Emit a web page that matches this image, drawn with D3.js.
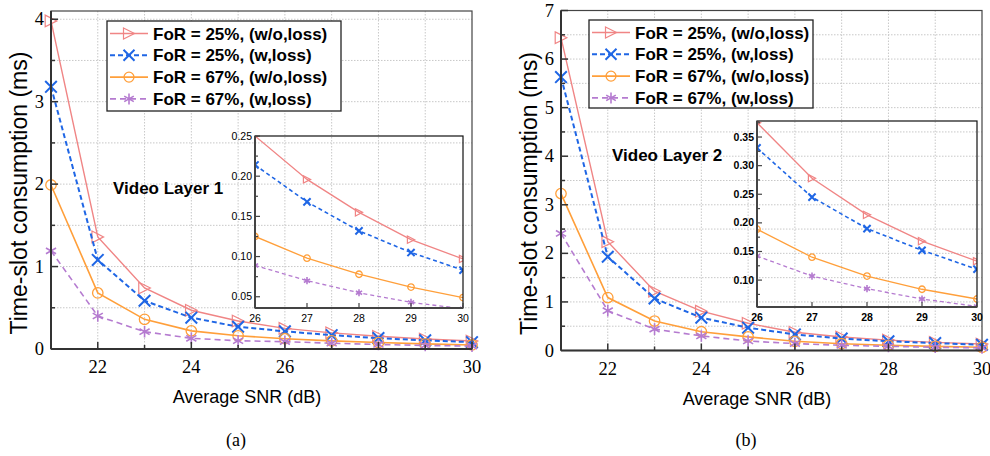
<!DOCTYPE html>
<html>
<head>
<meta charset="utf-8">
<script src="https://cdn.jsdelivr.net/npm/d3@7"></script>
<style>
  body { margin: 0; background: #fff; }
  svg { display: block; }
</style>
</head>
<body>
<svg id="chart" width="990" height="456"></svg>
<script>
// x values (average SNR, dB)
const snr = [21, 22, 23, 24, 25, 26, 27, 28, 29, 30];
const seriesNames = [
  "FoR = 25%, (w/o,loss)",
  "FoR = 25%, (w,loss)",
  "FoR = 67%, (w/o,loss)",
  "FoR = 67%, (w,loss)"
];

// video layer 1
const l1For25NoLoss = [3.98, 1.36, 0.74, 0.47, 0.34, 0.250, 0.196, 0.155, 0.121, 0.097];
const l1For25Loss   = [3.18, 1.08, 0.585, 0.38, 0.27, 0.214, 0.168, 0.132, 0.105, 0.083];
const l1For67NoLoss = [1.99, 0.68, 0.36, 0.22, 0.16, 0.125, 0.098, 0.078, 0.062, 0.049];
const l1For67Loss   = [1.19, 0.40, 0.21, 0.13, 0.10, 0.089, 0.070, 0.055, 0.043, 0.035];

// video layer 2
const l2For25NoLoss = [6.44, 2.24, 1.22, 0.81, 0.56, 0.375, 0.278, 0.214, 0.168, 0.133];
const l2For25Loss   = [5.63, 1.93, 1.07, 0.675, 0.47, 0.331, 0.245, 0.190, 0.152, 0.119];
const l2For67NoLoss = [3.23, 1.09, 0.607, 0.387, 0.28, 0.189, 0.140, 0.107, 0.084, 0.067];
const l2For67Loss   = [2.41, 0.82, 0.44, 0.30, 0.195, 0.142, 0.107, 0.085, 0.067, 0.054];

// tick labels
const xTicks = [22, 24, 26, 28, 30];
const insetXTicks = [26, 27, 28, 29, 30];
const l1YTicks = [0, 1, 2, 3, 4];
const l2YTicks = [0, 1, 2, 3, 4, 5, 6, 7];
const l1InsetYTicks = [0.05, 0.10, 0.15, 0.20, 0.25];
const l2InsetYTicks = [0.10, 0.15, 0.20, 0.25, 0.30, 0.35];

const styles = [
  { color: "#f08585", dash: null,  marker: "tri",  width: 1.4 },
  { color: "#1f66e5", dash: "5,3", marker: "x",    width: 2 },
  { color: "#ff9f3a", dash: null,  marker: "circ", width: 1.6 },
  { color: "#b57bd0", dash: "6,4", marker: "star", width: 1.6 }
];

const svg = d3.select("#chart");

function drawMarker(g, type, cx, cy, s, color) {
  const m = g.append("g").attr("transform", `translate(${cx},${cy})`)
    .attr("fill", "none").attr("stroke", color);
  if (type === "tri") {
    m.append("path").attr("d", `M${-s},${-s}L${s},0L${-s},${s}Z`).attr("stroke-width", 1.2);
  } else if (type === "x") {
    m.append("path").attr("d", `M${-s},${-s}L${s},${s}M${-s},${s}L${s},${-s}`).attr("stroke-width", 2);
  } else if (type === "circ") {
    m.append("circle").attr("r", s * 0.9).attr("stroke-width", 1.3);
  } else {
    const a = s * 0.87, b = s * 0.5;
    m.append("path").attr("d", `M0,${-s}L0,${s}M${-a},${-b}L${a},${b}M${-a},${b}L${a},${-b}`)
      .attr("stroke-width", 1.6);
  }
}

function drawPanel(p) {
  const x = d3.scaleLinear().domain([21, 30]).range([p.left, p.right]);
  const y = d3.scaleLinear().domain([0, p.yMax]).range([p.bottom, p.top]);
  const g = svg.append("g");

  // grid
  const gx = d3.range(22, 30);
  const gy = d3.range(0.5, p.yMax + 0.01, 0.5);
  g.selectAll(".gx").data(gx).enter().append("line")
    .attr("x1", d => x(d)).attr("x2", d => x(d))
    .attr("y1", p.top).attr("y2", p.bottom)
    .attr("stroke", "#c8c8c8").attr("stroke-dasharray", "1.5,1.5");
  g.selectAll(".gy").data(gy).enter().append("line")
    .attr("x1", p.left).attr("x2", p.right)
    .attr("y1", d => y(d)).attr("y2", d => y(d))
    .attr("stroke", "#c8c8c8").attr("stroke-dasharray", "1.5,1.5");

  // series
  const line = d3.line().x((d, i) => x(snr[i])).y(d => y(d));
  p.series.forEach((vals, k) => {
    const st = styles[k];
    g.append("path").datum(vals).attr("d", line)
      .attr("fill", "none").attr("stroke", st.color)
      .attr("stroke-width", st.width)
      .attr("stroke-dasharray", st.dash);
    vals.forEach((v, i) => drawMarker(g, st.marker, x(snr[i]), y(v), 5.8, st.color));
  });

  // frame and ticks
  g.append("rect").attr("x", p.left).attr("y", p.top)
    .attr("width", p.right - p.left).attr("height", p.bottom - p.top)
    .attr("fill", "none").attr("stroke", "#444").attr("stroke-width", 1.2);
  g.append("line").attr("x1", p.left).attr("x2", p.left).attr("y1", p.top).attr("y2", p.bottom)
    .attr("stroke", "#333").attr("stroke-width", 2);
  g.append("line").attr("x1", p.left).attr("x2", p.right).attr("y1", p.bottom).attr("y2", p.bottom)
    .attr("stroke", "#333").attr("stroke-width", 2);

  d3.range(22, 31).forEach(v => {
    const len = v % 2 === 0 ? 7 : 4;
    g.append("line").attr("x1", x(v)).attr("x2", x(v))
      .attr("y1", p.bottom).attr("y2", p.bottom - len)
      .attr("stroke", "#333").attr("stroke-width", 1.5);
  });
  d3.range(0.5, p.yMax + 0.01, 0.5).forEach(v => {
    const len = Number.isInteger(v) ? 7 : 4;
    g.append("line").attr("x1", p.left).attr("x2", p.left + len)
      .attr("y1", y(v)).attr("y2", y(v))
      .attr("stroke", "#333").attr("stroke-width", 1.5);
  });

  g.selectAll(".xt").data(xTicks).enter().append("text")
    .attr("x", d => x(d)).attr("y", p.bottom + 24)
    .attr("text-anchor", "middle")
    .attr("font-family", "Liberation Serif, Times New Roman, serif")
    .attr("font-size", 18.5).text(d => d);
  g.selectAll(".yt").data(p.yTicks).enter().append("text")
    .attr("x", p.left - 7).attr("y", d => y(d) + 6)
    .attr("text-anchor", "end")
    .attr("font-family", "Liberation Serif, Times New Roman, serif")
    .attr("font-size", 18.5).text(d => d);

  // axis titles
  g.append("text")
    .attr("transform", `translate(${p.left - 24},${(p.top + p.bottom) / 2 + 13}) rotate(-90)`)
    .attr("text-anchor", "middle")
    .attr("font-family", "Liberation Sans, Arial, sans-serif")
    .attr("font-size", 23).text("Time-slot consumption (ms)");
  g.append("text").attr("x", p.left + 196).attr("y", p.bottom + 54)
    .attr("text-anchor", "middle")
    .attr("font-family", "Liberation Sans, Arial, sans-serif")
    .attr("font-size", 18).text("Average SNR (dB)");
  g.append("text").attr("x", p.left + 185).attr("y", 446)
    .attr("text-anchor", "middle")
    .attr("font-family", "Liberation Serif, Times New Roman, serif")
    .attr("font-size", 18).text(p.caption);

  g.append("text").attr("x", p.labelX).attr("y", p.labelY)
    .attr("font-family", "Liberation Sans, Arial, sans-serif")
    .attr("font-weight", "bold").attr("font-size", 17).text(p.label);

  // legend
  const lg = p.legend;
  g.append("rect").attr("x", lg.x).attr("y", lg.y).attr("width", lg.w).attr("height", lg.h)
    .attr("fill", "#fff").attr("stroke", "#222").attr("stroke-width", 1.3);
  seriesNames.forEach((name, k) => {
    const st = styles[k];
    const cy = lg.y + 12.5 + k * 21.8;
    g.append("line").attr("x1", lg.x + 3).attr("x2", lg.x + 41)
      .attr("y1", cy).attr("y2", cy)
      .attr("stroke", st.color).attr("stroke-width", st.width)
      .attr("stroke-dasharray", st.dash);
    drawMarker(g, st.marker, lg.x + 22, cy, 5.5, st.color);
    g.append("text").attr("x", lg.x + 46).attr("y", cy + 6)
      .attr("font-family", "Liberation Sans, Arial, sans-serif")
      .attr("font-weight", "bold").attr("font-size", 17).text(name);
  });

  // inset
  const ins = p.inset;
  const ix = d3.scaleLinear().domain([26, 30]).range([ins.left, ins.right]);
  const iy = d3.scaleLinear().domain(ins.yDomain).range([ins.bottom, ins.top]);
  const clipId = "clip" + p.caption.replace(/\W/g, "");
  svg.append("defs").append("clipPath").attr("id", clipId)
    .append("rect").attr("x", ins.left).attr("y", ins.top)
    .attr("width", ins.right - ins.left).attr("height", ins.bottom - ins.top);
  const ig = g.append("g");
  const ic = ig.append("g").attr("clip-path", `url(#${clipId})`);
  const iline = d3.line().x((d, i) => ix(insetXTicks[i])).y(d => iy(d));
  p.series.forEach((vals, k) => {
    const st = styles[k];
    const sub = vals.slice(5);
    ic.append("path").datum(sub).attr("d", iline)
      .attr("fill", "none").attr("stroke", st.color)
      .attr("stroke-width", k === 1 ? 1.6 : 1.3)
      .attr("stroke-dasharray", st.dash ? "4,3" : null);
    sub.forEach((v, i) => drawMarker(ic, st.marker, ix(insetXTicks[i]), iy(v), 3.6, st.color));
  });
  ig.append("rect").attr("x", ins.left).attr("y", ins.top)
    .attr("width", ins.right - ins.left).attr("height", ins.bottom - ins.top)
    .attr("fill", "none").attr("stroke", "#111").attr("stroke-width", 1.2);
  ig.append("line").attr("x1", ins.left).attr("x2", ins.left).attr("y1", ins.top).attr("y2", ins.bottom)
    .attr("stroke", "#444").attr("stroke-width", 2);
  ig.append("line").attr("x1", ins.left).attr("x2", ins.right).attr("y1", ins.bottom).attr("y2", ins.bottom)
    .attr("stroke", "#444").attr("stroke-width", 2);
  d3.range(Math.ceil(ins.yDomain[0] / 0.025) * 0.025, ins.yDomain[1] + 0.001, 0.025).forEach(v => {
    const major = Math.abs(Math.round(v / 0.05) * 0.05 - v) < 0.001;
    ig.append("line").attr("x1", ins.left).attr("x2", ins.left + (major ? 5 : 3))
      .attr("y1", iy(v)).attr("y2", iy(v)).attr("stroke", "#444").attr("stroke-width", 1.2);
  });
  insetXTicks.forEach(v => {
    ig.append("line").attr("x1", ix(v)).attr("x2", ix(v))
      .attr("y1", ins.bottom).attr("y2", ins.bottom - 5)
      .attr("stroke", "#444").attr("stroke-width", 1.2);
  });
  ig.selectAll(".iyt").data(ins.yTicks).enter().append("text")
    .attr("x", ins.left - 3).attr("y", d => iy(d) + 3.5)
    .attr("text-anchor", "end")
    .attr("font-family", "Liberation Sans, Arial, sans-serif")
    .attr("font-weight", ins.bold ? "bold" : "normal")
    .attr("font-size", 10.5).text(d => d.toFixed(2));
  ig.selectAll(".ixt").data(insetXTicks).enter().append("text")
    .attr("x", d => ix(d)).attr("y", ins.bottom + 14)
    .attr("text-anchor", "middle")
    .attr("font-family", "Liberation Sans, Arial, sans-serif")
    .attr("font-weight", ins.bold ? "bold" : "normal")
    .attr("font-size", 10.5).text(d => d);
}

drawPanel({
  left: 51, right: 472, top: 11, bottom: 349, yMax: 4.1, yTicks: l1YTicks,
  series: [l1For25NoLoss, l1For25Loss, l1For67NoLoss, l1For67Loss],
  caption: "(a)", label: "Video Layer 1", labelX: 113, labelY: 194,
  legend: { x: 107, y: 21, w: 234, h: 90 },
  inset: { left: 255, right: 463, top: 136, bottom: 308, yDomain: [0.036, 0.25],
           yTicks: l1InsetYTicks, bold: false }
});

drawPanel({
  left: 561, right: 982, top: 10.5, bottom: 350.5, yMax: 7, yTicks: l2YTicks,
  series: [l2For25NoLoss, l2For25Loss, l2For67NoLoss, l2For67Loss],
  caption: "(b)", label: "Video Layer 2", labelX: 612, labelY: 161,
  legend: { x: 589, y: 20, w: 224, h: 88 },
  inset: { left: 757, right: 977, top: 121, bottom: 307, yDomain: [0.053, 0.378],
           yTicks: l2InsetYTicks, bold: true }
});
</script>
</body>
</html>
